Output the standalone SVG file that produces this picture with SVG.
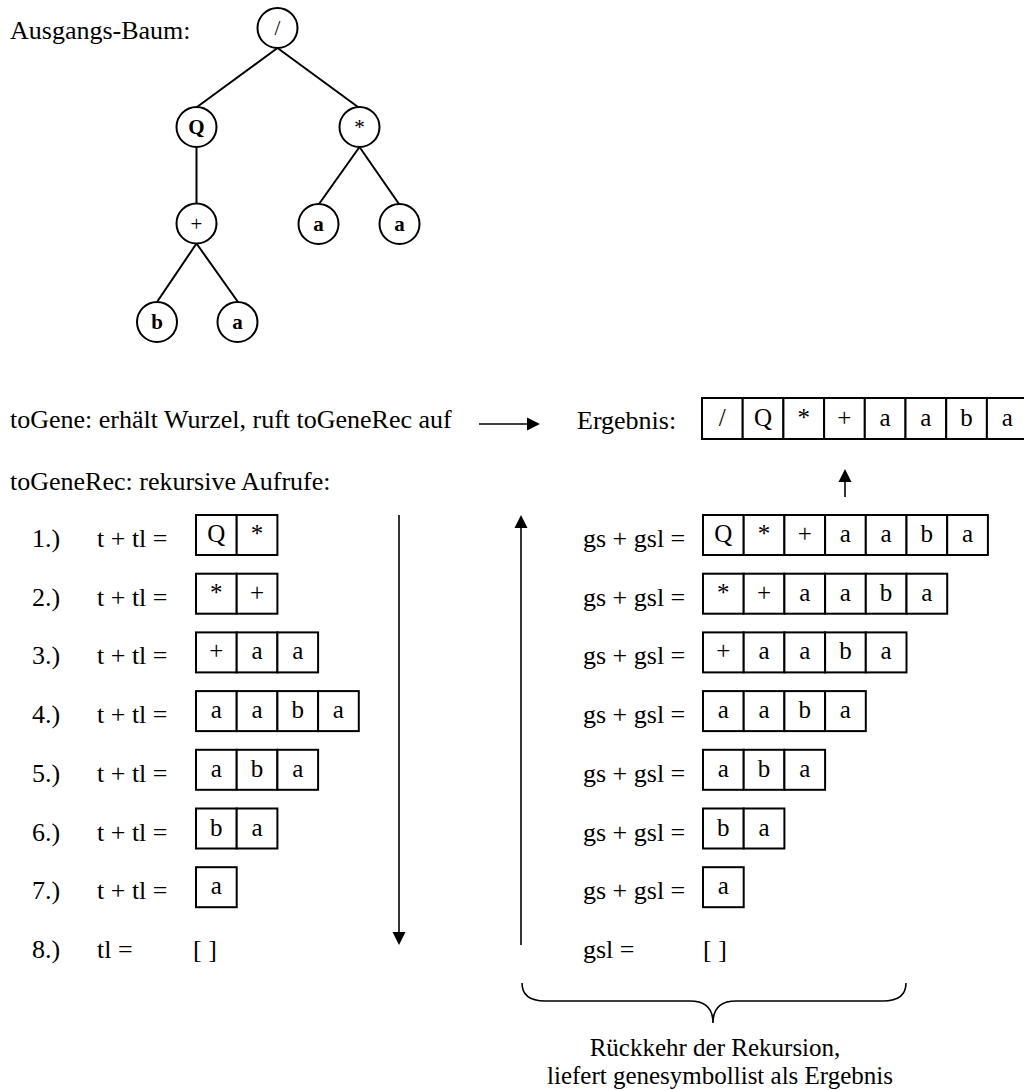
<svg xmlns="http://www.w3.org/2000/svg" width="1024" height="1090" viewBox="0 0 1024 1090">
<style>
text{font-family:"Liberation Serif","Times New Roman",serif;fill:#000}
.t{font-size:26px}
.cap{font-size:25px;text-anchor:middle}
.c{font-size:25px;text-anchor:middle}
.n{font-size:21px;text-anchor:middle}
.b{font-weight:bold}
.cell{fill:#fff;stroke:#000;stroke-width:2}
.node{fill:#fff;stroke:#000;stroke-width:2}
.edge{stroke:#000;stroke-width:2;fill:none}
.arr{stroke:#000;stroke-width:1.6;fill:none}
.head{fill:#000}
</style>
<rect width="1024" height="1090" fill="#fff"/>
<text class="t" x="10" y="39">Ausgangs-Baum:</text>

<g id="connectors">
<line class="edge" x1="277.5" y1="48" x2="197" y2="107"/>
<line class="edge" x1="277.5" y1="48" x2="358" y2="107"/>
<line class="edge" x1="196.5" y1="147" x2="196.5" y2="203.5"/>
<line class="edge" x1="196.5" y1="243.5" x2="157" y2="302"/>
<line class="edge" x1="196.5" y1="243.5" x2="238" y2="302"/>
<line class="edge" x1="359.5" y1="147" x2="319" y2="204"/>
<line class="edge" x1="359.5" y1="147" x2="399" y2="204"/>
<line class="arr" x1="479" y1="424" x2="528" y2="424"/>
<polygon class="head" points="527,417.5 540,424 527,430.5"/>
<line class="arr" x1="845" y1="497" x2="845" y2="481"/>
<polygon class="head" points="838.5,482 845,469 851.5,482"/>
<line class="arr" x1="399" y1="515" x2="399" y2="933"/>
<polygon class="head" points="392.5,932 399,945 405.5,932"/>
<line class="arr" x1="521" y1="945" x2="521" y2="527"/>
<polygon class="head" points="514.5,528 521,515 527.5,528"/>
<path class="arr" d="M522,983 C522,995 530,1001 545,1001 L690,1001 C705,1001 713,1008 713,1023 C713,1008 721,1001 736,1001 L883,1001 C898,1001 906,995 906,983"/>
</g>

<g id="n_root"><circle class="node" cx="277.5" cy="28" r="20"/><text class="n" x="277.5" y="35">/</text></g>
<g id="n_Q"><circle class="node" cx="196.5" cy="127" r="20"/><text class="n b" x="196.5" y="134">Q</text></g>
<g id="n_mul"><circle class="node" cx="359.5" cy="127" r="20"/><text class="n" x="359.5" y="134">*</text></g>
<g id="n_plus"><circle class="node" cx="196.5" cy="223.5" r="20"/><text class="n" x="196.5" y="230.5">+</text></g>
<g id="n_a1"><circle class="node" cx="318.5" cy="224" r="20"/><text class="n b" x="318.5" y="231">a</text></g>
<g id="n_a2"><circle class="node" cx="399.5" cy="224" r="20"/><text class="n b" x="399.5" y="231">a</text></g>
<g id="n_b"><circle class="node" cx="157" cy="322" r="20"/><text class="n b" x="157" y="329">b</text></g>
<g id="n_a3"><circle class="node" cx="237.5" cy="322" r="20"/><text class="n b" x="237.5" y="329">a</text></g>

<g id="togene">
<text class="t" x="10" y="428">toGene: erhält Wurzel, ruft toGeneRec auf</text>
</g>
<g id="ergebnis">
<text class="t" x="577" y="429">Ergebnis:</text>
<rect class="cell" x="702" y="398" width="40.7" height="41"/><text class="c" x="722.3" y="426">/</text>
<rect class="cell" x="742.7" y="398" width="40.7" height="41"/><text class="c" x="763" y="426">Q</text>
<rect class="cell" x="783.4" y="398" width="40.7" height="41"/><text class="c" x="803.7" y="426">*</text>
<rect class="cell" x="824.1" y="398" width="40.7" height="41"/><text class="c" x="844.4" y="426">+</text>
<rect class="cell" x="864.8" y="398" width="40.7" height="41"/><text class="c" x="885.1" y="426">a</text>
<rect class="cell" x="905.5" y="398" width="40.7" height="41"/><text class="c" x="925.8" y="426">a</text>
<rect class="cell" x="946.2" y="398" width="40.7" height="41"/><text class="c" x="966.5" y="426">b</text>
<rect class="cell" x="986.9" y="398" width="40.7" height="41"/><text class="c" x="1007.2" y="426">a</text>
</g>
<text class="t" x="10" y="490">toGeneRec: rekursive Aufrufe:</text>

<g id="left_rows">
<g id="l1"><text class="t" x="32" y="547">1.)</text><text class="t" x="97" y="547">t + tl =</text>
<rect class="cell" x="196" y="515" width="40.7" height="40"/><text class="c" x="216.3" y="542">Q</text>
<rect class="cell" x="236.7" y="515" width="40.7" height="40"/><text class="c" x="257" y="542">*</text></g>
<g id="l2"><text class="t" x="32" y="605.7">2.)</text><text class="t" x="97" y="605.7">t + tl =</text>
<rect class="cell" x="196" y="573.7" width="40.7" height="40"/><text class="c" x="216.3" y="600.7">*</text>
<rect class="cell" x="236.7" y="573.7" width="40.7" height="40"/><text class="c" x="257" y="600.7">+</text></g>
<g id="l3"><text class="t" x="32" y="664.4">3.)</text><text class="t" x="97" y="664.4">t + tl =</text>
<rect class="cell" x="196" y="632.4" width="40.7" height="40"/><text class="c" x="216.3" y="659.4">+</text>
<rect class="cell" x="236.7" y="632.4" width="40.7" height="40"/><text class="c" x="257" y="659.4">a</text>
<rect class="cell" x="277.4" y="632.4" width="40.7" height="40"/><text class="c" x="297.7" y="659.4">a</text></g>
<g id="l4"><text class="t" x="32" y="723.1">4.)</text><text class="t" x="97" y="723.1">t + tl =</text>
<rect class="cell" x="196" y="691.1" width="40.7" height="40"/><text class="c" x="216.3" y="718.1">a</text>
<rect class="cell" x="236.7" y="691.1" width="40.7" height="40"/><text class="c" x="257" y="718.1">a</text>
<rect class="cell" x="277.4" y="691.1" width="40.7" height="40"/><text class="c" x="297.7" y="718.1">b</text>
<rect class="cell" x="318.1" y="691.1" width="40.7" height="40"/><text class="c" x="338.4" y="718.1">a</text></g>
<g id="l5"><text class="t" x="32" y="781.8">5.)</text><text class="t" x="97" y="781.8">t + tl =</text>
<rect class="cell" x="196" y="749.8" width="40.7" height="40"/><text class="c" x="216.3" y="776.8">a</text>
<rect class="cell" x="236.7" y="749.8" width="40.7" height="40"/><text class="c" x="257" y="776.8">b</text>
<rect class="cell" x="277.4" y="749.8" width="40.7" height="40"/><text class="c" x="297.7" y="776.8">a</text></g>
<g id="l6"><text class="t" x="32" y="840.5">6.)</text><text class="t" x="97" y="840.5">t + tl =</text>
<rect class="cell" x="196" y="808.5" width="40.7" height="40"/><text class="c" x="216.3" y="835.5">b</text>
<rect class="cell" x="236.7" y="808.5" width="40.7" height="40"/><text class="c" x="257" y="835.5">a</text></g>
<g id="l7"><text class="t" x="32" y="899.2">7.)</text><text class="t" x="97" y="899.2">t + tl =</text>
<rect class="cell" x="196" y="867.2" width="40.7" height="40"/><text class="c" x="216.3" y="894.2">a</text></g>
<g id="l8"><text class="t" x="32" y="957.9">8.)</text><text class="t" x="97" y="957.9">tl =</text><text class="t" x="193" y="957.9">[ ]</text></g>
</g>

<g id="right_rows">
<g id="r1"><text class="t" x="583" y="547">gs + gsl =</text>
<rect class="cell" x="703" y="515" width="40.7" height="40"/><text class="c" x="723.3" y="542">Q</text>
<rect class="cell" x="743.7" y="515" width="40.7" height="40"/><text class="c" x="764" y="542">*</text>
<rect class="cell" x="784.4" y="515" width="40.7" height="40"/><text class="c" x="804.7" y="542">+</text>
<rect class="cell" x="825.1" y="515" width="40.7" height="40"/><text class="c" x="845.4" y="542">a</text>
<rect class="cell" x="865.8" y="515" width="40.7" height="40"/><text class="c" x="886.1" y="542">a</text>
<rect class="cell" x="906.5" y="515" width="40.7" height="40"/><text class="c" x="926.8" y="542">b</text>
<rect class="cell" x="947.2" y="515" width="40.7" height="40"/><text class="c" x="967.5" y="542">a</text></g>
<g id="r2"><text class="t" x="583" y="605.7">gs + gsl =</text>
<rect class="cell" x="703" y="573.7" width="40.7" height="40"/><text class="c" x="723.3" y="600.7">*</text>
<rect class="cell" x="743.7" y="573.7" width="40.7" height="40"/><text class="c" x="764" y="600.7">+</text>
<rect class="cell" x="784.4" y="573.7" width="40.7" height="40"/><text class="c" x="804.7" y="600.7">a</text>
<rect class="cell" x="825.1" y="573.7" width="40.7" height="40"/><text class="c" x="845.4" y="600.7">a</text>
<rect class="cell" x="865.8" y="573.7" width="40.7" height="40"/><text class="c" x="886.1" y="600.7">b</text>
<rect class="cell" x="906.5" y="573.7" width="40.7" height="40"/><text class="c" x="926.8" y="600.7">a</text></g>
<g id="r3"><text class="t" x="583" y="664.4">gs + gsl =</text>
<rect class="cell" x="703" y="632.4" width="40.7" height="40"/><text class="c" x="723.3" y="659.4">+</text>
<rect class="cell" x="743.7" y="632.4" width="40.7" height="40"/><text class="c" x="764" y="659.4">a</text>
<rect class="cell" x="784.4" y="632.4" width="40.7" height="40"/><text class="c" x="804.7" y="659.4">a</text>
<rect class="cell" x="825.1" y="632.4" width="40.7" height="40"/><text class="c" x="845.4" y="659.4">b</text>
<rect class="cell" x="865.8" y="632.4" width="40.7" height="40"/><text class="c" x="886.1" y="659.4">a</text></g>
<g id="r4"><text class="t" x="583" y="723.1">gs + gsl =</text>
<rect class="cell" x="703" y="691.1" width="40.7" height="40"/><text class="c" x="723.3" y="718.1">a</text>
<rect class="cell" x="743.7" y="691.1" width="40.7" height="40"/><text class="c" x="764" y="718.1">a</text>
<rect class="cell" x="784.4" y="691.1" width="40.7" height="40"/><text class="c" x="804.7" y="718.1">b</text>
<rect class="cell" x="825.1" y="691.1" width="40.7" height="40"/><text class="c" x="845.4" y="718.1">a</text></g>
<g id="r5"><text class="t" x="583" y="781.8">gs + gsl =</text>
<rect class="cell" x="703" y="749.8" width="40.7" height="40"/><text class="c" x="723.3" y="776.8">a</text>
<rect class="cell" x="743.7" y="749.8" width="40.7" height="40"/><text class="c" x="764" y="776.8">b</text>
<rect class="cell" x="784.4" y="749.8" width="40.7" height="40"/><text class="c" x="804.7" y="776.8">a</text></g>
<g id="r6"><text class="t" x="583" y="840.5">gs + gsl =</text>
<rect class="cell" x="703" y="808.5" width="40.7" height="40"/><text class="c" x="723.3" y="835.5">b</text>
<rect class="cell" x="743.7" y="808.5" width="40.7" height="40"/><text class="c" x="764" y="835.5">a</text></g>
<g id="r7"><text class="t" x="583" y="899.2">gs + gsl =</text>
<rect class="cell" x="703" y="867.2" width="40.7" height="40"/><text class="c" x="723.3" y="894.2">a</text></g>
<g id="r8"><text class="t" x="583" y="957.9">gsl =</text><text class="t" x="703" y="957.9">[ ]</text></g>
</g>

<g id="caption">
<text class="cap" x="715" y="1056">Rückkehr der Rekursion,</text>
<text class="cap" x="720" y="1084">liefert genesymbollist als Ergebnis</text>
</g>
</svg>
